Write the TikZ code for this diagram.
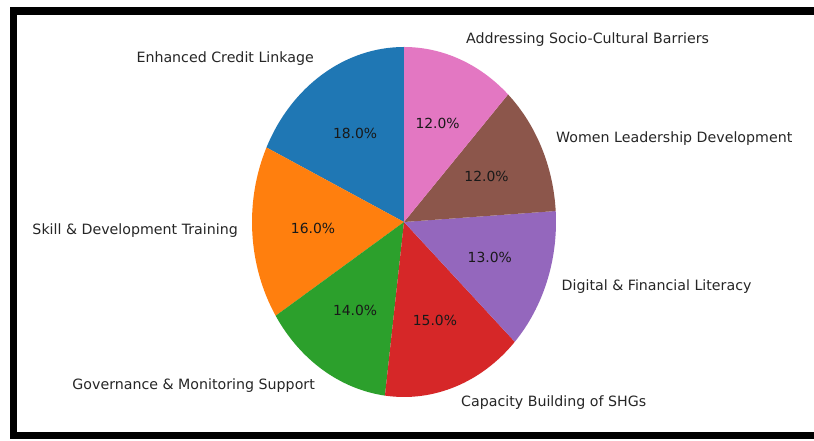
\documentclass[tikz,border=0pt]{standalone}
\usepackage{fontspec}
\setmainfont{DejaVu Sans}
\usetikzlibrary{calc}
\definecolor{tabblue}{HTML}{1F77B4}
\definecolor{taborange}{HTML}{FF7F0E}
\definecolor{tabgreen}{HTML}{2CA02C}
\definecolor{tabred}{HTML}{D62728}
\definecolor{tabpurple}{HTML}{9467BD}
\definecolor{tabbrown}{HTML}{8C564B}
\definecolor{tabpink}{HTML}{E377C2}
\tikzset{
  lbl/.style={inner sep=0pt, text=black!85, font=\fontsize{14.2}{17}\selectfont},
  pct/.style={inner sep=0pt, text=black!90, font=\fontsize{13.9}{17}\selectfont},
}
\newcommand{\wedgefill}[3]{%
  \fill[#3] (C) -- ($(C)+(#1:152pt and 175pt)$) arc[start angle=#1, end angle=#2, x radius=152pt, y radius=175pt] -- cycle;}
\begin{document}
\begin{tikzpicture}[x=1pt,y=1pt]
\useasboundingbox (0,0) rectangle (814,441);
\fill[white] (0,0) rectangle (814,441);
\coordinate (C) at (404,219);
\wedgefill{90}{154.8}{tabblue}
\wedgefill{154.8}{212.4}{taborange}
\wedgefill{212.4}{262.8}{tabgreen}
\wedgefill{262.8}{316.8}{tabred}
\wedgefill{316.8}{363.6}{tabpurple}
\wedgefill{363.6}{406.8}{tabbrown}
\wedgefill{406.8}{450}{tabpink}
% percentages
\node[pct] (p1) at (355.1,307.6) {18.0\%};
\node[pct] (p2) at (313,212.4) {16.0\%};
\node[pct] (p3) at (355.1,130.4) {14.0\%};
\node[pct] (p4) at (434.9,120.2) {15.0\%};
\node[pct] (p5) at (489.8,183.4) {13.0\%};
\node[pct] (p6) at (486.5,264.7) {12.0\%};
\node[pct] (p7) at (437.6,317.6) {12.0\%};
% labels
\node[lbl, anchor=east] (l1) at (314,382) {Enhanced Credit Linkage};
\node[lbl, anchor=east] (l2) at (238,210) {Skill \& Development Training};
\node[lbl, anchor=east] (l3) at (315,55) {Governance \& Monitoring Support};
\node[lbl, anchor=west] (l4) at (461,38) {Capacity Building of SHGs};
\node[lbl, anchor=west] (l5) at (561.5,154.5) {Digital \& Financial Literacy};
\node[lbl, anchor=west] (l6) at (556,302.5) {Women Leadership Development};
\node[lbl, anchor=west] (l7) at (466,401) {Addressing Socio-Cultural Barriers};
% frame
\draw[line width=7.5pt] (13.5,5.5) rectangle (820,430);
\end{tikzpicture}
\end{document}
